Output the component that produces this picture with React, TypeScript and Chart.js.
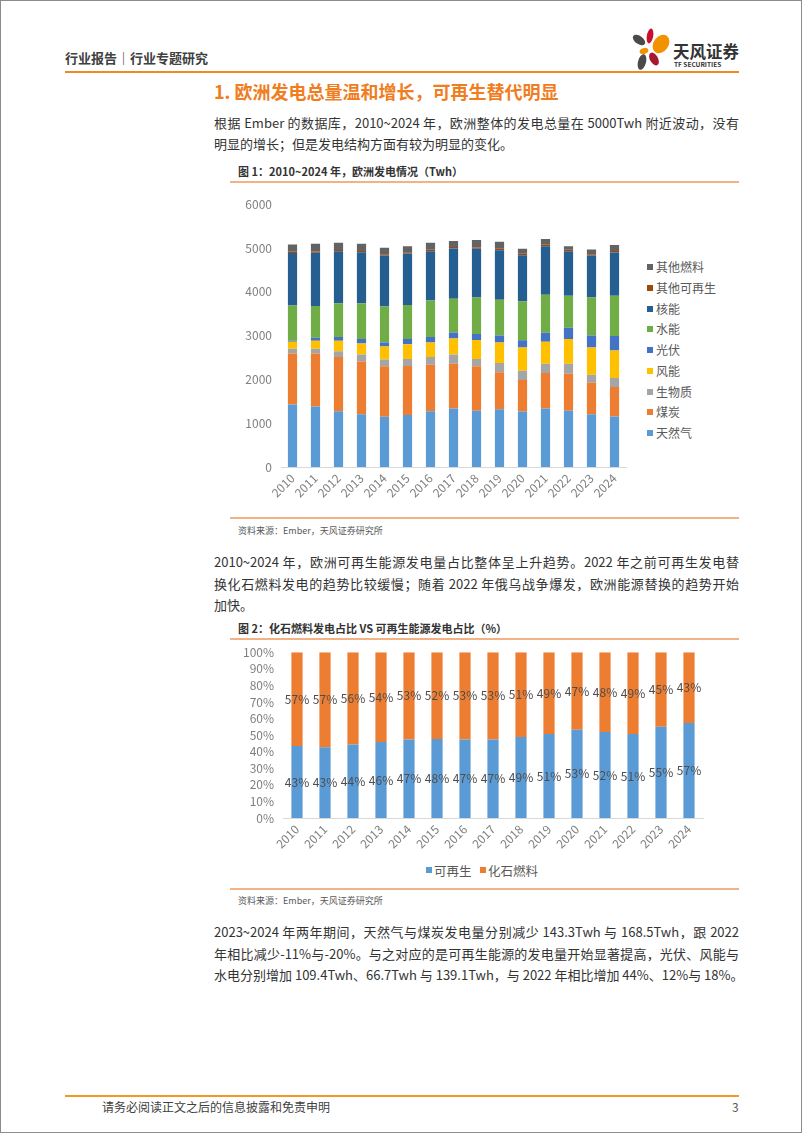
import React, { useEffect, useRef } from "react";
import { Chart, registerables } from "chart.js";
Chart.register(...registerables);

const FONT = "'Noto Sans CJK SC', 'Noto Sans', sans-serif";

// ---------- Figure 1 data (TWh) ----------
const years = ["2010", "2011", "2012", "2013", "2014", "2015", "2016", "2017", "2018", "2019", "2020", "2021", "2022", "2023", "2024"];
const seriesNames = ["天然气", "煤炭", "生物质", "风能", "光伏", "水能", "核能", "其他可再生", "其他燃料"];
const seriesColors = ["#5B9BD5", "#ED7D31", "#A5A5A5", "#FFC000", "#4472C4", "#70AD47", "#255E91", "#9E480E", "#636363"];
const gas = [1425, 1379, 1272, 1203, 1149, 1188, 1272, 1338, 1287, 1318, 1268, 1333, 1287, 1203, 1153];
const coal = [1165, 1211, 1241, 1203, 1150, 1119, 1065, 1022, 1012, 843, 720, 813, 843, 720, 671];
const biomass = [108, 107, 131, 161, 153, 160, 176, 207, 168, 214, 210, 214, 230, 184, 207];
const wind = [160, 184, 237, 253, 299, 338, 330, 368, 430, 468, 530, 498, 560, 621, 630];
const solar = [23, 69, 85, 100, 92, 115, 123, 138, 138, 161, 165, 207, 261, 276, 330];
const hydro = [804, 728, 773, 819, 820, 781, 835, 770, 835, 812, 885, 866, 727, 866, 920];
const nuclear = [1203, 1211, 1188, 1165, 1165, 1173, 1126, 1145, 1111, 1134, 1057, 1111, 1019, 958, 988];
const otherRenewable = [28, 30, 30, 30, 30, 30, 32, 32, 32, 32, 32, 32, 32, 30, 30];
const otherFuel = [162, 177, 162, 162, 146, 138, 162, 137, 167, 160, 116, 129, 83, 108, 139];
const energySeries = [gas, coal, biomass, wind, solar, hydro, nuclear, otherRenewable, otherFuel];
const energyMax = 6000;
const energyStep = 1000;

// ---------- Figure 2 data (%) ----------
const shareNames = ["可再生", "化石燃料"];
const shareColors = ["#5B9BD5", "#ED7D31"];
const renewableShare = [43.4, 42.6, 44.4, 45.8, 47.3, 47.6, 47.4, 47.3, 48.8, 50.6, 53.2, 51.8, 50.6, 55.0, 57.3];
const fossilShare = [56.6, 57.4, 55.6, 54.2, 52.7, 52.4, 52.6, 52.7, 51.2, 49.4, 46.8, 48.2, 49.4, 45.0, 42.7];

const shareLabelPlugin = {
  id: "shareLabels",
  afterDatasetsDraw(chart: any) {
    const ctx = chart.ctx;
    ctx.save();
    ctx.font = `12px ${FONT}`;
    ctx.fillStyle = "#4D4D4D";
    ctx.textAlign = "center";
    ctx.textBaseline = "middle";
    chart.data.datasets.forEach((ds: any, di: number) => {
      const meta = chart.getDatasetMeta(di);
      meta.data.forEach((el: any, i: number) => {
        const v = ds.data[i] as number;
        ctx.fillText(Math.round(v) + "%", el.x, (el.y + el.base) / 2);
      });
    });
    ctx.restore();
  },
};

function useChart(ref: React.RefObject<HTMLCanvasElement>, make: () => any) {
  useEffect(() => {
    if (!ref.current) return;
    const chart = new Chart(ref.current, make());
    return () => chart.destroy();
  }, []);
}

function EnergyChart() {
  const ref = useRef<HTMLCanvasElement>(null);
  useChart(ref, () => ({
    type: "bar",
    data: {
      labels: years,
      datasets: energySeries.map((d, i) => ({
        label: seriesNames[i],
        data: d,
        backgroundColor: seriesColors[i],
        borderWidth: 0,
        barPercentage: 0.4,
        categoryPercentage: 1,
      })),
    },
    options: {
      animation: false,
      responsive: false,
      layout: { padding: { top: 2, right: 6, left: 0, bottom: 0 } },
      plugins: { legend: { display: false }, tooltip: { enabled: false } },
      scales: {
        x: {
          stacked: true,
          grid: { display: false, drawTicks: false },
          border: { display: true, color: "#D9D9D9", width: 1 },
          ticks: { color: "#7F7F7F", font: { size: 12, family: FONT }, minRotation: 45, maxRotation: 45, padding: 4, autoSkip: false },
          afterFit: (s: any) => { s.height = 40; },
        },
        y: {
          stacked: true,
          min: 0,
          max: energyMax,
          ticks: { stepSize: energyStep, autoSkip: false, color: "#7F7F7F", font: { size: 12, family: FONT }, padding: 9, callback: (v: any) => String(v) },
          grid: { display: false, drawTicks: false },
          border: { display: false },
          afterFit: (s: any) => { s.width = 44; },
        },
      },
    },
  }));
  return <canvas ref={ref} width={395} height={319} style={{ position: "absolute", left: 236, top: 187, width: 395, height: 319 }} />;
}

function ShareChart() {
  const ref = useRef<HTMLCanvasElement>(null);
  useChart(ref, () => ({
    type: "bar",
    data: {
      labels: years,
      datasets: [renewableShare, fossilShare].map((d, i) => ({
        label: shareNames[i],
        data: d,
        backgroundColor: shareColors[i],
        borderWidth: 0,
        barPercentage: 0.4,
        categoryPercentage: 1,
      })),
    },
    plugins: [shareLabelPlugin],
    options: {
      animation: false,
      responsive: false,
      layout: { padding: { top: 2, right: 4, left: 0, bottom: 0 } },
      plugins: { legend: { display: false }, tooltip: { enabled: false } },
      scales: {
        x: {
          stacked: true,
          grid: { display: false, drawTicks: false },
          border: { display: true, color: "#D9D9D9", width: 1 },
          ticks: { color: "#7F7F7F", font: { size: 12, family: FONT }, minRotation: 45, maxRotation: 45, padding: 4, autoSkip: false },
          afterFit: (s: any) => { s.height = 38; },
        },
        y: {
          stacked: true,
          min: 0,
          max: 100,
          ticks: { stepSize: 10, autoSkip: false, color: "#7F7F7F", font: { size: 12, family: FONT }, padding: 9, callback: (v: any) => v + "%" },
          grid: { display: false, drawTicks: false },
          border: { display: false },
          afterFit: (s: any) => { s.width = 52; },
        },
      },
    },
  }));
  return <canvas ref={ref} width={476} height={220} style={{ position: "absolute", left: 230, top: 635, width: 476, height: 220 }} />;
}

const T = (p: { x: number; y: number; size: number; color?: string; weight?: any; children: any; style?: any }) => (
  <div
    style={{
      position: "absolute",
      left: p.x,
      top: p.y - p.size,
      lineHeight: p.size * 2 + "px",
      fontSize: p.size,
      color: p.color || "#333",
      fontWeight: p.weight || "normal",
      whiteSpace: "nowrap",
      ...(p.style || {}),
    }}
  >
    {p.children}
  </div>
);

const Line = (p: { y: number; justify?: boolean; children: any }) => (
  <div
    style={{
      position: "absolute",
      left: 213,
      width: 525,
      top: p.y - 11,
      lineHeight: "22px",
      fontSize: 13,
      color: "#333",
      whiteSpace: "nowrap",
      textAlign: p.justify ? "justify" : "left",
      textAlignLast: p.justify ? "justify" : "left",
    } as any}
  >
    {p.children}
  </div>
);

const Rule = (p: { x1: number; x2: number; y: number; h: number; color: string }) => (
  <div style={{ position: "absolute", left: p.x1, width: p.x2 - p.x1, top: p.y - p.h / 2, height: p.h, background: p.color }} />
);

function Logo() {
  return (
    <svg width={42} height={46} viewBox="0 0 42 46" style={{ position: "absolute", left: 629, top: 26 }}>
      <ellipse cx={9} cy={13} rx={7} ry={4} fill="#4A4A4A" transform="rotate(35 9 13)" />
      <ellipse cx={20} cy={9} rx={3.2} ry={7.5} fill="#C8102E" transform="rotate(10 20 9)" />
      <ellipse cx={31} cy={17} rx={7.5} ry={10} fill="#F39200" transform="rotate(35 31 17)" />
      <ellipse cx={14} cy={24} rx={4.5} ry={3} fill="#F39200" transform="rotate(-20 14 24)" />
      <ellipse cx={24} cy={32} rx={4} ry={7} fill="#A6192E" transform="rotate(-30 24 32)" />
      <ellipse cx={12} cy={35} rx={4} ry={8} fill="#4A4A4A" transform="rotate(15 12 35)" />
    </svg>
  );
}

export default function App() {
  return (
    <div
      style={{
        position: "absolute",
        left: 0,
        top: 0,
        width: 802,
        height: 1133,
        boxSizing: "border-box",
        border: "1px solid #8C8C8C",
        background: "#fff",
        fontFamily: FONT,
        overflow: "hidden",
      }}
    >
      {/* header */}
      <T x={64} y={57} size={13} weight="bold" color="#404040">行业报告｜行业专题研究</T>
      <Logo />
      <T x={672} y={50} size={16.5} weight="bold" color="#333">天风证券</T>
      <T x={673} y={63} size={6.5} weight="bold" color="#333">TF SECURITIES</T>
      <Rule x1={64} x2={738} y={71} h={2} color="#EE8A24" />

      <T x={213} y={90} size={18} weight="bold" color="#F07D1E">1. 欧洲发电总量温和增长，可再生替代明显</T>

      <Line y={122} justify>根据 Ember 的数据库，2010~2024 年，欧洲整体的发电总量在 5000Twh 附近波动，没有</Line>
      <Line y={143}>明显的增长；但是发电结构方面有较为明显的变化。</Line>

      {/* figure 1 */}
      <T x={237} y={170} size={11} weight="bold" color="#333">图 1：2010~2024 年，欧洲发电情况（Twh）</T>
      <Rule x1={229} x2={738} y={181} h={1.5} color="#F4B183" />
      <EnergyChart />
      {seriesNames.map((n, i) => {
        const row = seriesNames.length - 1 - i;
        const cy = 266 + row * 20.75;
        return (
          <React.Fragment key={n}>
            <div style={{ position: "absolute", left: 646, top: cy - 3, width: 6, height: 6, background: seriesColors[i] }} />
            <T x={655} y={cy} size={12} color="#595959">{n}</T>
          </React.Fragment>
        );
      })}
      <Rule x1={229} x2={738} y={517} h={1.5} color="#F4B183" />
      <T x={237} y={530} size={9} color="#595959">资料来源：Ember，天风证券研究所</T>

      <Line y={561} justify>2010~2024 年，欧洲可再生能源发电量占比整体呈上升趋势。2022 年之前可再生发电替</Line>
      <Line y={583} justify>换化石燃料发电的趋势比较缓慢；随着 2022 年俄乌战争爆发，欧洲能源替换的趋势开始</Line>
      <Line y={604}>加快。</Line>

      {/* figure 2 */}
      <T x={237} y={627} size={11} weight="bold" color="#333">图 2：化石燃料发电占比 VS 可再生能源发电占比（%）</T>
      <Rule x1={229} x2={738} y={638} h={1.5} color="#F4B183" />
      <ShareChart />
      {shareNames.map((n, i) => {
        const x = i === 0 ? 425 : 479;
        return (
          <React.Fragment key={n}>
            <div style={{ position: "absolute", left: x, top: 866, width: 6, height: 6, background: shareColors[i] }} />
            <T x={x + 8} y={869} size={12.5} color="#595959">{n}</T>
          </React.Fragment>
        );
      })}
      <Rule x1={229} x2={738} y={888} h={1.5} color="#F4B183" />
      <T x={237} y={900} size={9} color="#595959">资料来源：Ember，天风证券研究所</T>

      <Line y={931} justify>2023~2024 年两年期间，天然气与煤炭发电量分别减少 143.3Twh 与 168.5Twh，跟 2022</Line>
      <Line y={953} justify>年相比减少-11%与-20%。与之对应的是可再生能源的发电量开始显著提高，光伏、风能与</Line>
      <Line y={974}>水电分别增加 109.4Twh、66.7Twh 与 139.1Twh，与 2022 年相比增加 44%、12%与 18%。</Line>

      {/* footer */}
      <Rule x1={64} x2={738} y={1095} h={2} color="#EE9A24" />
      <T x={101} y={1106} size={12} color="#404040">请务必阅读正文之后的信息披露和免责申明</T>
      <T x={731} y={1106} size={12} color="#595959">3</T>
    </div>
  );
}
